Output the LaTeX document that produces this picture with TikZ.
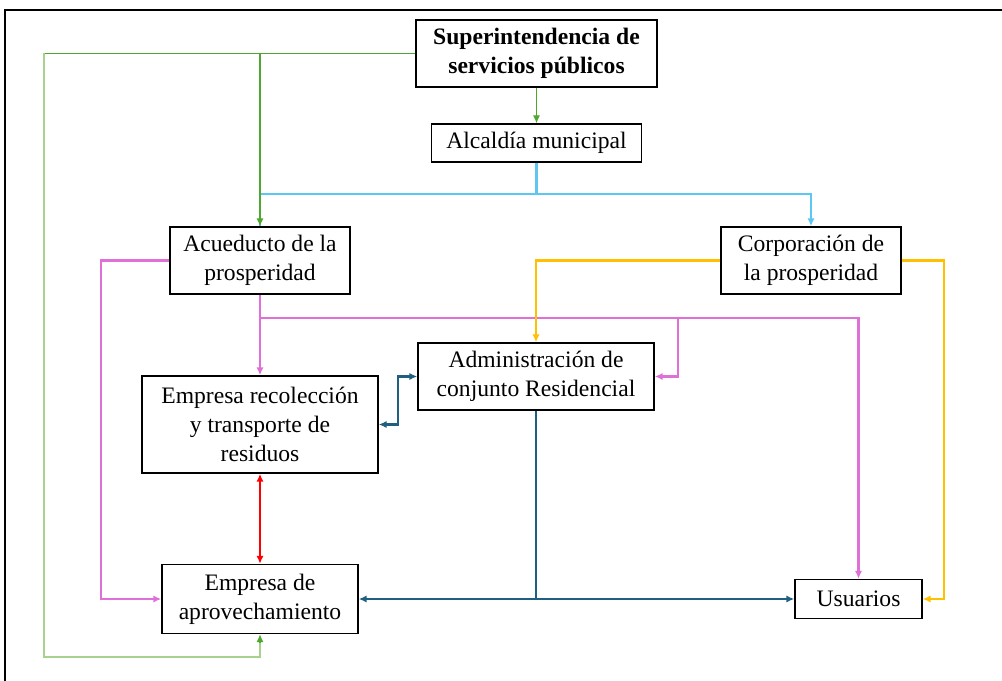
\documentclass[tikz,border=0pt]{standalone}
\usepackage{fontspec}
\setmainfont{Liberation Serif}
\usetikzlibrary{arrows.meta}
\definecolor{gdark}{HTML}{4EA72E}
\definecolor{glight}{HTML}{A9D18E}
\definecolor{lblue}{HTML}{5BC7F2}
\definecolor{pinkc}{HTML}{E070D8}
\definecolor{yelc}{HTML}{FFC000}
\definecolor{tealc}{HTML}{1F5F7F}
\definecolor{redc}{HTML}{FF0000}
\begin{document}
\begin{tikzpicture}[x=0.75pt,y=-0.75pt,
  box/.style={draw=black,line width=1.1pt,fill=white,inner sep=0pt,align=center,
    font=\fontsize{17.7}{22}\selectfont},
  tip/.style={-{Latex[length=6pt,width=5.5pt]}},
  btip/.style={{Latex[length=6pt,width=5.5pt]}-{Latex[length=6pt,width=5.5pt]}},
  gd/.style={draw=gdark,line width=1pt},
  gl/.style={draw=glight,line width=1.4pt},
  lb/.style={draw=lblue,line width=2pt},
  pk/.style={draw=pinkc,line width=1.6pt},
  yl/.style={draw=yelc,line width=1.6pt},
  tl/.style={draw=tealc,line width=2pt},
  rd/.style={draw=redc,line width=1.6pt}]
\useasboundingbox (0,0) rectangle (1002,681);
\fill[white] (0,0) rectangle (1002,681);
\draw[line width=2pt] (5,681) -- (5,10) -- (1002,10);

\node[box,minimum width=180.75pt,minimum height=50.25pt,font=\fontsize{17.7}{22}\selectfont\bfseries] (sup) at (536.5,53.5) {Superintendencia de\\servicios públicos};
\node[box,minimum width=157.5pt,minimum height=28.5pt] (alc) at (536.5,143) {Alcaldía municipal};
\node[box,minimum width=135pt,minimum height=50.25pt] (acu) at (260,260.5) {Acueducto de la\\prosperidad};
\node[box,minimum width=135pt,minimum height=50.25pt] (cor) at (811,260.5) {Corporación de\\la prosperidad};
\node[box,minimum width=177pt,minimum height=50.25pt] (adm) at (536,376.5) {Administración de\\conjunto Residencial};
\node[box,minimum width=177pt,minimum height=72.75pt] (rec) at (260,424.5) {Empresa recolección\\y transporte de\\residuos};
\node[box,minimum width=147pt,minimum height=51.75pt] (apr) at (260,599) {Empresa de\\aprovechamiento};
\node[box,minimum width=95.25pt,minimum height=29.25pt] (usu) at (858.5,599) {Usuarios};

\coordinate (gcorner) at (44,53.5);
\coordinate (gbottom) at (44,657);
\coordinate (bj) at (536.5,194);
\coordinate (pl) at (101,400);
\coordinate (pj) at (260,318);
\coordinate (pr) at (678,318);
\coordinate (yr) at (944,400);
\coordinate (tk) at (398,400);

% light blue
\draw[lb] (alc.south) -- (bj);
\draw[lb] (bj) -| (acu.north);
\draw[lb,tip] (bj) -| (cor.north);
% green
\draw[gd] (sup.west) -- (gcorner);
\draw[gd,tip] (sup.west -| acu.north) -- (acu.north);
\draw[gd,tip] (sup.south) -- (alc.north);
\draw[gl] (gcorner) -- (gbottom) -| ([yshift=-6pt]apr.south);
\draw[gd,tip] ([yshift=-6pt]apr.south) -- (apr.south);
% pink
\draw[pk,tip] (acu.west) -| (pl) |- (apr.west);
\draw[pk,tip] (acu.south) -- (rec.north);
\draw[pk,tip] (pj) -| (usu.north);
\draw[pk,tip] (pr) |- (adm.east);
% yellow
\draw[yl,tip] (cor.west) -| (adm.north);
\draw[yl,tip] (cor.east) -| (yr) |- (usu.east);
% teal
\draw[tl,btip] (adm.west) -| (tk) |- (rec.east);
\draw[tl,btip] (apr.east) -- (usu.west);
\draw[tl] (adm.south) -- (adm.south |- apr.east);
% red
\draw[rd,btip] (rec.south) -- (apr.north);
\end{tikzpicture}
\end{document}
